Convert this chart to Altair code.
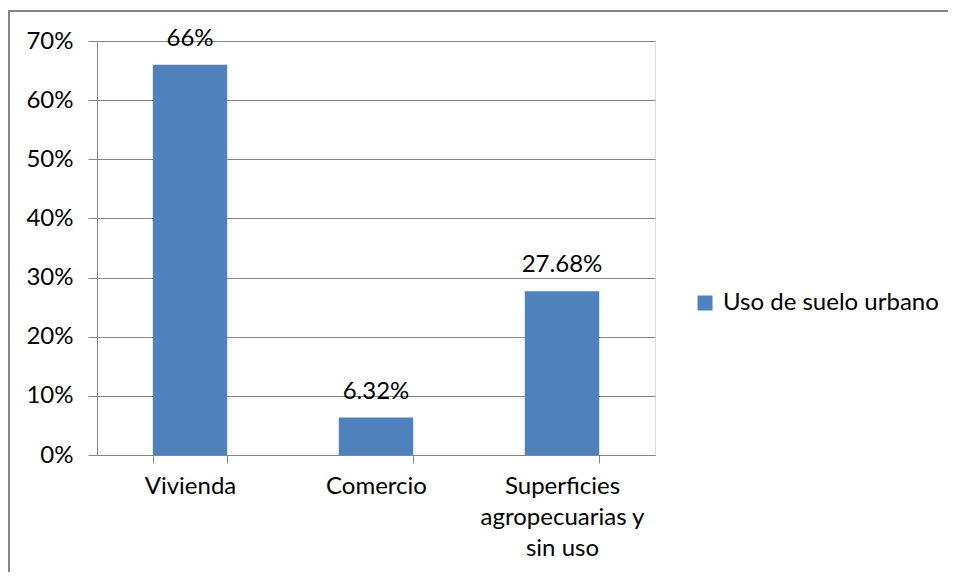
import altair as alt
import pandas as pd

categories = ["Vivienda", "Comercio", "Superficies agropecuarias y sin uso"]
values = [0.66, 0.0632, 0.2768]
value_labels = ["66%", "6.32%", "27.68%"]
series_name = "Uso de suelo urbano"
y_ticks = [0, 0.1, 0.2, 0.3, 0.4, 0.5, 0.6, 0.7]

df = pd.DataFrame({
    "cat": categories,
    "val": values,
    "lbl": value_labels,
    "serie": [series_name] * len(categories),
})

FONT = "Lato"
FS = 24
GRAY = "#868686"
BLUE = "#4F81BD"

x = alt.X(
    "cat:N",
    sort=categories,
    scale=alt.Scale(paddingInner=0.6, paddingOuter=0.3),
    axis=alt.Axis(
        title=None,
        labelAngle=0,
        labelFontSize=FS,
        labelFont=FONT,
        labelColor="black",
        labelBaseline="top",
        labelLineHeight=31,
        labelPadding=11,
        tickBand="extent",
        tickSize=8,
        tickColor=GRAY,
        domainColor=GRAY,
        grid=False,
        labelExpr="datum.label == 'Superficies agropecuarias y sin uso' ? ['Superficies', 'agropecuarias y', 'sin uso'] : datum.label",
    ),
)

y = alt.Y(
    "val:Q",
    scale=alt.Scale(domain=[0, 0.7]),
    axis=alt.Axis(
        title=None,
        values=y_ticks,
        format=".0%",
        labelFontSize=FS,
        labelFont=FONT,
        labelColor="black",
        tickSize=9,
        labelPadding=15,
        tickColor=GRAY,
        domainColor=GRAY,
        gridColor=GRAY,
        gridWidth=1,
    ),
)

bars = alt.Chart(df).mark_bar(color=BLUE).encode(
    x=x,
    y=y,
    color=alt.Color(
        "serie:N",
        scale=alt.Scale(range=[BLUE]),
        legend=alt.Legend(
            title=None,
            orient="none",
            legendX=596,
            legendY=250,
            symbolType="square",
            symbolSize=225,
            symbolStrokeWidth=0,
            labelFontSize=FS,
            labelFont=FONT,
            labelColor="black",
            labelOffset=6,
            labelLimit=0,
        ),
    ),
)

texts = alt.Chart(df).mark_text(
    fontSize=FS, font=FONT, color="black", baseline="alphabetic", dy=-19
).encode(x=alt.X("cat:N", sort=categories), y="val:Q", text="lbl:N")

one = alt.Data(values=[{}])
border_top = alt.Chart(one).mark_rule(color=GRAY, strokeWidth=2).encode(
    x=alt.value(-88), x2=alt.value(900), y=alt.value(-30)
)
border_left = alt.Chart(one).mark_rule(color=GRAY, strokeWidth=2).encode(
    x=alt.value(-88), y=alt.value(-31), y2=alt.value(600)
)

chart = alt.layer(bars, texts, border_top, border_left).properties(
    width=558,
    height=414,
    autosize=alt.AutoSizeParams(type="none"),
    padding={"left": 89, "top": 33, "right": 293, "bottom": 117},
).configure_view(stroke=None).configure(background="white")

chart.save("out.html", embed_options={"renderer": "svg", "actions": False})
